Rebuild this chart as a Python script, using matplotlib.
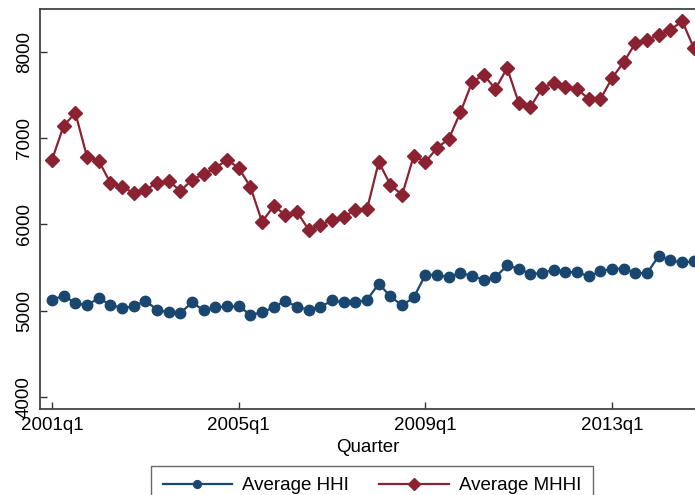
import numpy as np
import matplotlib
matplotlib.use('Agg')
import matplotlib.pyplot as plt

plt.rcParams['font.family'] = ['Liberation Sans', 'DejaVu Sans']

# Quarterly averages, 2001q1 .. 2014q4
years = list(range(2001, 2015))
quarters = ['%dq%d' % (y, q) for y in years for q in range(1, 5)]

hhi = [5127, 5174, 5090, 5062, 5147, 5070, 5031, 5050, 5116, 5012, 4981, 4973,
       5097, 5004, 5039, 5050, 5050, 4954, 4981, 5039, 5116, 5043, 5012, 5043,
       5120, 5097, 5097, 5127, 5313, 5166, 5062, 5155, 5417, 5417, 5386, 5437,
       5405, 5359, 5390, 5525, 5487, 5425, 5437, 5475, 5448, 5448, 5398, 5456,
       5487, 5487, 5437, 5437, 5637, 5583, 5560, 5571]

mhhi = [6750, 7145, 7293, 6783, 6740, 6482, 6436, 6366, 6400, 6482, 6505, 6390,
        6517, 6586, 6655, 6750, 6655, 6436, 6030, 6215, 6111, 6146, 5937, 5995,
        6053, 6088, 6169, 6180, 6725, 6459, 6343, 6795, 6725, 6888, 6992, 7300,
        7652, 7733, 7571, 7814, 7409, 7363, 7583, 7641, 7594, 7571, 7455, 7455,
        7699, 7884, 8104, 8139, 8197, 8255, 8359, 8046]

tick_labels = ['2001q1', '2005q1', '2009q1', '2013q1']
y_ticks = [4000, 5000, 6000, 7000, 8000]

navy = '#1a476f'
maroon = '#8b2232'

W, H = 695, 495
fig = plt.figure(figsize=(W / 100, H / 100), dpi=100)
ax = fig.add_axes([40 / W, 1 - 409 / H, 1 - 40 / W, 400 / H])

x = np.arange(len(quarters))
ax.plot(x, hhi, color=navy, lw=1.6, marker='o', ms=7.5, label='Average HHI', clip_on=False)
ax.plot(x, mhhi, color=maroon, lw=1.6, marker='D', ms=7.5, label='Average MHHI', clip_on=False)

ax.set_xlim(-1.03, 55.1)
ax.set_ylim(3861, 8498)

ax.set_xticks([quarters.index(t) for t in tick_labels])
ax.set_xticklabels(tick_labels, fontsize=13.5)
ax.set_yticks(y_ticks)
ax.set_yticklabels([str(v) for v in y_ticks], fontsize=13.5, rotation=90, va='center')
ax.tick_params(direction='in', length=5, width=1, color='#333333')
ax.tick_params(axis='x', pad=6)
ax.tick_params(axis='y', pad=5)
ax.set_xlabel('Quarter', fontsize=13.5, labelpad=3)

for side in ['left', 'bottom', 'top']:
    ax.spines[side].set_color('#444444')
    ax.spines[side].set_linewidth(1.3)
ax.spines['right'].set_visible(False)

# legend box runs off the bottom edge
fig.legend(loc='upper center', bbox_to_anchor=(372 / W, 1 - 466 / H), ncol=2,
           fontsize=13.5, frameon=True, fancybox=False, edgecolor='#444444',
           handlelength=3.7, handletextpad=0.55, columnspacing=1.6,
           borderpad=0.6, borderaxespad=0, markerscale=0.75)

fig.savefig('out.png', dpi=100)
